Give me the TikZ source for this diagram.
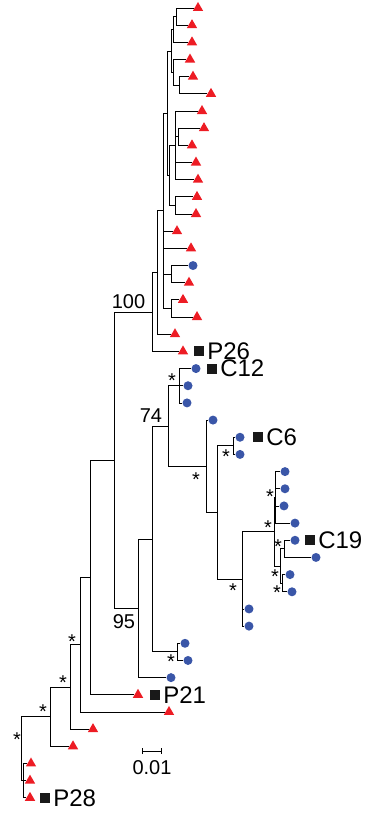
\documentclass[tikz,border=0pt]{standalone}
\usepackage{fontspec}
\setmainfont{Liberation Sans}
\usetikzlibrary{positioning, shapes.geometric, arrows.meta}

\definecolor{trired}{RGB}{237,28,36}
\definecolor{dotblue}{RGB}{58,86,168}

% y position of leaf row i (rows 17.17pt apart)
\pgfmathdeclarefunction{row}{1}{\pgfmathparse{8+(#1-1)*17.17}}

\tikzset{
    branch/.style={line width=0.8pt, black},
    tri/.style={regular polygon, regular polygon sides=3, fill=trired, minimum size=12pt, inner sep=0pt},
    bluedot/.style={circle, fill=dotblue, minimum size=9pt, inner sep=0pt},
    sq/.style={rectangle, fill=black!90, minimum size=10pt, inner sep=0pt},
    strain/.style={font=\fontsize{24}{24}\selectfont, inner sep=0pt, anchor=west},
    boot/.style={font=\fontsize{20}{20}\selectfont, inner sep=0pt},
    supp/.style={font=\fontsize{20}{20}\selectfont, inner sep=0pt}
}
% asterisk boxed tightly round its glyph
\newcommand{\suppmark}{\raisebox{-0.423em}[0.293em][0pt]{*}}

\begin{document}
\begin{tikzpicture}[x=1pt, y=-1pt]
        \useasboundingbox (0,0) rectangle (370,813);

        % leaves
        \foreach \i/\x in {1/198,2/192,3/192,4/190,5/193,6/211,7/202,8/204,9/192,10/196,11/198,12/197,13/196,14/177,15/191,17/189,18/183,19/197,20/175,21/183,41/138,42/169,43/93,44/73,45/31,46/30,47/30}
            \node[tri] (l\i) at (\x,{row(\i)}) {};
        \foreach \i/\x in {16/193,22/196,23/188,24/187,25/213,26/240,27/240,28/285,29/285,30/284,31/295,32/295,33/316,34/290,35/292,36/249,37/249,38/185,39/188,40/171}
            \node[bluedot] (l\i) at (\x,{row(\i)}) {};

        % internal nodes
        \coordinate (t12) at (176,{row(1.5)});
        \coordinate (t123) at (173,{row(2.25)});
        \coordinate (t56) at (179,{row(5.5)});
        \coordinate (t456) at (173,{row(4.75)});
        \coordinate (t16) at (171,{row(3.5)});
        \coordinate (t89) at (178,{row(8.5)});
        \coordinate (t711) at (175,{row(9)});
        \coordinate (t1213) at (175,{row(12.5)});
        \coordinate (t713) at (169,{row(10.75)});
        \coordinate (t113) at (167,{row(7.125)});
        \coordinate (t1617) at (171,{row(16.5)});
        \coordinate (t1819) at (171,{row(18.5)});
        \coordinate (t119) at (163,{row(12.8125)});
        \coordinate (t120) at (157,{row(16.40625)});
        \coordinate (n100) at (152,{row(18.703125)});
        \coordinate (c2224) at (179,{row(23)});
        \coordinate (c2627) at (233,{row(26.5)});
        \coordinate (c2831) at (275,{row(29.5)});
        \coordinate (c3233) at (284,{row(32.5)});
        \coordinate (c3435) at (282,{row(34.5)});
        \coordinate (c3235) at (280,{row(33.5)});
        \coordinate (c2835) at (274,{row(31.5)});
        \coordinate (c2837) at (242,{row(34.25)});
        \coordinate (c2637) at (217,{row(30.375)});
        \coordinate (c2537) at (206,{row(27.6875)});
        \coordinate (n74) at (168,{row(25.34375)});
        \coordinate (c3839) at (177,{row(38.5)});
        \coordinate (c2239) at (152,{row(31.921875)});
        \coordinate (n95) at (138,{row(35.9609375)});
        \coordinate (n114) at (114,{row(27.33203125)});
        \coordinate (n90) at (90,{row(34.166015625)});
        \coordinate (n80) at (80,{row(38.0830078125)});
        \coordinate (n70) at (70,{row(40.54150390625)});
        \coordinate (n50) at (50,{row(42.270751953125)});
        \coordinate (p4547) at (23,{row(46)});
        \coordinate (root) at (21,{row(44.1353759765625)});

        % branches
        \foreach \p/\c in {t12/l1, t12/l2, t123/t12, t123/l3, t56/l5, t56/l6, t456/l4, t456/t56,
                t16/t123, t16/t456, t89/l8, t89/l9, t711/l7, t711/t89, t711/l10, t711/l11,
                t1213/l12, t1213/l13, t713/t711, t713/t1213, t113/t16, t113/t713,
                t1617/l16, t1617/l17, t1819/l18, t1819/l19,
                t119/t113, t119/l14, t119/l15, t119/t1617, t119/t1819,
                t120/t119, t120/l20, n100/t120, n100/l21,
                c2224/l22, c2224/l23, c2224/l24, c2627/l26, c2627/l27,
                c2831/l28, c2831/l29, c2831/l30, c2831/l31,
                c3233/l32, c3233/l33, c3435/l34, c3435/l35, c3235/c3233, c3235/c3435,
                c2835/c2831, c2835/c3235, c2837/c2835, c2837/l36, c2837/l37,
                c2637/c2627, c2637/c2837, c2537/l25, c2537/c2637, n74/c2224, n74/c2537,
                c3839/l38, c3839/l39, c2239/n74, c2239/c3839, n95/c2239, n95/l40,
                n114/n100, n114/n95, n90/n114, n90/l41, n80/n90, n80/l42,
                n70/n80, n70/l43, n50/n70, n50/l44,
                p4547/l45, p4547/l46, p4547/l47, root/n50, root/p4547}
            \draw[branch] (\p) |- (\c);

        % support values
        \node[boot] (b100) at (128.5,301.5) {100};
        \node[boot] (b74) at (151,415.5) {74};
        \node[boot] (b95) at (124,621.5) {95};
        \foreach \x/\y [count=\k] in {172/376, 196/475, 226/452, 233/586, 270/492, 268/523, 278/542,
                275/572, 277/588, 171/657, 72/637, 63/678, 43/707, 17/735}
            \node[supp] (s\k) at (\x,\y) {\suppmark};

        % labelled strains
        \node[sq, right=7pt of l21] (q21) {};
        \node[strain, right=3pt of q21] (n21) {P26};
        \node[sq, right=6pt of l22] (q22) {};
        \node[strain, right=3pt of q22] (n22) {C12};
        \node[sq, right=8pt of l26] (q26) {};
        \node[strain, right=3pt of q26] (n26) {C6};
        \node[sq, right=5pt of l32] (q32) {};
        \node[strain, right=3pt of q32] (n32) {C19};
        \node[sq, right=8pt of l41] (q41) {};
        \node[strain, right=3pt of q41] (n41) {P21};
        \node[sq, right=6pt of l47] (q47) {};
        \node[strain, right=3pt of q47] (n47) {P28};

        % scale bar
        \coordinate (sbl) at (142,751);
        \coordinate (sbr) at (162,751);
        \draw[branch, {Bar[width=6pt]}-{Bar[width=6pt]}] (sbl) -- (sbr);
        \node[boot] (sbt) at (152,768) {0.01};
\end{tikzpicture}
\end{document}
